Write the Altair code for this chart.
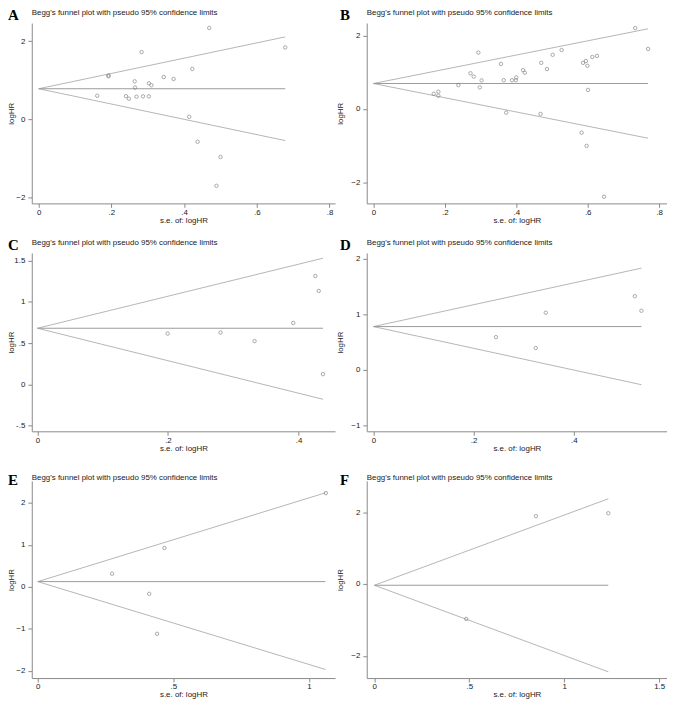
import altair as alt
import pandas as pd

# ---------------- data ----------------
# Panel A
a_se = [0.469, 0.678, 0.283, 0.4225, 0.192, 0.192, 0.344, 0.371, 0.264, 0.303, 0.310,
        0.265, 0.161, 0.240, 0.248, 0.269, 0.287, 0.303, 0.414, 0.437, 0.500, 0.489]
a_lhr = [2.34, 1.84, 1.72, 1.29, 1.12, 1.10, 1.08, 1.03, 0.97, 0.92, 0.87,
         0.81, 0.60, 0.59, 0.525, 0.576, 0.585, 0.585, 0.06, -0.58, -0.97, -1.71]
a_fun = [0.78, 0.678, 2.11, -0.55]  # centre, max se, upper end, lower end

# Panel B
b_se = [0.733, 0.769, 0.294, 0.527, 0.502, 0.626, 0.613, 0.595, 0.599, 0.587, 0.470,
        0.357, 0.486, 0.419, 0.424, 0.272, 0.281, 0.303, 0.365, 0.388, 0.400, 0.399,
        0.298, 0.238, 0.601, 0.169, 0.182, 0.182, 0.372, 0.468, 0.583, 0.597, 0.646]
b_lhr = [2.21, 1.64, 1.54, 1.61, 1.48, 1.45, 1.42, 1.31, 1.18, 1.26, 1.26,
         1.23, 1.09, 1.06, 0.99, 0.975, 0.885, 0.78, 0.785, 0.785, 0.86, 0.785,
         0.59, 0.65, 0.52, 0.415, 0.47, 0.36, -0.10, -0.135, -0.65, -1.01, -2.40]
b_fun = [0.695, 0.769, 2.19, -0.80]

# Panel C
c_se = [0.1995, 0.2805, 0.3327, 0.392, 0.4258, 0.431, 0.4375]
c_lhr = [0.616, 0.628, 0.524, 0.744, 1.312, 1.132, 0.124]
c_fun = [0.68, 0.4375, 1.528, -0.18]

# Panel D
d_se = [0.2446, 0.324, 0.344, 0.5217, 0.535]
d_lhr = [0.587, 0.391, 1.026, 1.322, 1.061]
d_fun = [0.777, 0.535, 1.826, -0.267]

# Panel E
e_se = [1.062, 0.467, 0.274, 0.411, 0.440]
e_lhr = [2.236, 0.929, 0.315, -0.165, -1.118]
e_fun = [0.126, 1.061, 2.244, -1.969]

# Panel F
f_se = [0.851, 1.232, 0.484]
f_lhr = [1.885, 1.968, -0.975]
f_fun = [-0.037, 1.232, 2.37, -2.446]

panel_title = "Begg's funnel plot with pseudo 95% confidence limits"
x_title = "s.e. of: logHR"
y_title = "logHR"

x_ticks = {"A": [0, 0.2, 0.4, 0.6, 0.8], "B": [0, 0.2, 0.4, 0.6, 0.8],
           "C": [0, 0.2, 0.4], "D": [0, 0.2, 0.4],
           "E": [0, 0.5, 1], "F": [0, 0.5, 1, 1.5]}
y_ticks = {"A": [-2, 0, 2], "B": [-2, 0, 2], "C": [-0.5, 0, 0.5, 1, 1.5],
           "D": [-1, 0, 1, 2], "E": [-2, -1, 0, 1, 2], "F": [-2, 0, 2]}
x_dom = {"A": [-0.019, 0.815], "B": [-0.0185, 0.822], "C": [-0.0087, 0.456],
         "D": [-0.0133, 0.586], "E": [-0.022, 1.096], "F": [-0.040, 1.541]}
y_dom = {"A": [-2.161, 2.466], "B": [-2.581, 2.348], "C": [-0.568, 1.592],
         "D": [-1.103, 2.099], "E": [-2.173, 2.528], "F": [-2.62, 2.869]}

# ---------------- styling ----------------
AXIS_COL = "#8a8a8a"
FUN_COL = "#b5b5b5"
CEN_COL = "#9a9a9a"
PT_COL = "#777777"
TXT = "#1a1a1a"
LAB = ("datum.value == 0 ? '0' : (abs(datum.value) < 1 ? "
       "(datum.value < 0 ? '-' : '') + substring(format(abs(datum.value), '.1f'), 1) : "
       "format(datum.value, '~g'))")

W = [306, 303]
H = [182, 180, 199]
TOP_SHIFT = [0, 0, 7]


def panel(letter, se, lhr, fun, col, row):
    centre, semax, upper, lower = fun
    pts = pd.DataFrame({"se": se, "lhr": lhr})
    fdf = pd.DataFrame({"se": [0, semax, 0, semax],
                        "lhr": [centre, upper, centre, lower],
                        "g": ["u", "u", "l", "l"]})
    cdf = pd.DataFrame({"se": [0, semax], "lhr": [centre, centre]})
    if col == 0:
        ext, tpad = 15, 1
    else:
        ext, tpad = 20, 2
    xax = alt.Axis(values=x_ticks[letter], title=x_title, labelExpr=LAB,
                   tickSize=4, labelPadding=1, titlePadding=0,
                   labelFlush=False, labelOverlap=False, labelBound=False)
    yax = alt.Axis(values=y_ticks[letter], title=y_title, labelExpr=LAB,
                   tickSize=4, labelPadding=3, minExtent=ext, maxExtent=ext,
                   titlePadding=tpad, labelOverlap=False, labelBound=False,
                   labelFlush=False)
    X = alt.X("se:Q", scale=alt.Scale(domain=x_dom[letter], nice=False, zero=False), axis=xax)
    Y = alt.Y("lhr:Q", scale=alt.Scale(domain=y_dom[letter], nice=False, zero=False), axis=yax)

    funnel = alt.Chart(fdf).mark_line(color=FUN_COL, strokeWidth=1).encode(
        x=X, y=Y, detail="g:N")
    cen = alt.Chart(cdf).mark_line(color=CEN_COL, strokeWidth=1).encode(x=X, y=Y)
    dots = alt.Chart(pts).mark_point(shape="circle", filled=False, size=12,
                                     strokeWidth=0.9, color=PT_COL).encode(x=X, y=Y)
    tdf = pd.DataFrame({"letter": [letter], "title": [panel_title]})
    sh = TOP_SHIFT[row]
    let = alt.Chart(tdf).mark_text(font="Liberation Serif", fontWeight="bold",
                                   fontSize=15, align="left", baseline="alphabetic",
                                   color="black").encode(
        text="letter:N", x=alt.value(-24 if col == 0 else -27), y=alt.value(sh - 3))
    ttl = alt.Chart(tdf).mark_text(font="Liberation Sans", fontSize=8, align="left",
                                   baseline="alphabetic", color=TXT).encode(
        text="title:N", x=alt.value(0), y=alt.value(sh - 8))
    return alt.layer(funnel, cen, dots, let, ttl).properties(width=W[col], height=H[row])


panels = [
    panel("A", a_se, a_lhr, a_fun, 0, 0),
    panel("B", b_se, b_lhr, b_fun, 1, 0),
    panel("C", c_se, c_lhr, c_fun, 0, 1),
    panel("D", d_se, d_lhr, d_fun, 1, 1),
    panel("E", e_se, e_lhr, e_fun, 0, 2),
    panel("F", f_se, f_lhr, f_fun, 1, 2),
]

chart = alt.concat(*panels, columns=2, spacing={"row": 50, "column": 32},
                   bounds="flush", align="each").properties(
    padding={"top": -3, "left": 0, "right": 0, "bottom": 0}
).configure_view(strokeWidth=0).configure_axis(
    grid=False, domainColor=AXIS_COL, tickColor=AXIS_COL, domainWidth=1, tickWidth=1,
    labelFont="Liberation Sans", titleFont="Liberation Sans", labelFontSize=8,
    titleFontSize=8, labelColor=TXT, titleColor=TXT, titleFontWeight="normal"
)

chart.save("out.html", embed_options={"renderer": "svg", "actions": False})
